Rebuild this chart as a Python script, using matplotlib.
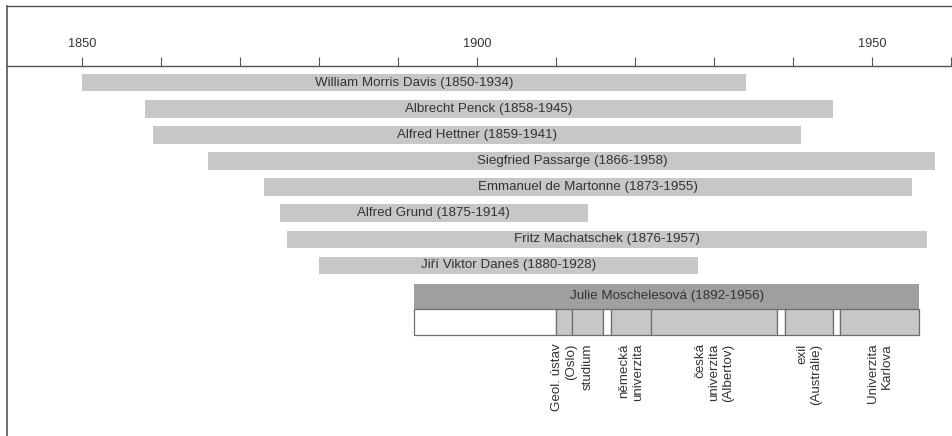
import matplotlib
matplotlib.use("Agg")
import matplotlib.pyplot as plt
from matplotlib.ticker import MultipleLocator

plt.rcParams['font.family'] = ['Liberation Sans', 'DejaVu Sans']

# geographers: name, birth, death
names = ["William Morris Davis", "Albrecht Penck", "Alfred Hettner", "Siegfried Passarge",
         "Emmanuel de Martonne", "Alfred Grund", "Fritz Machatschek", "Jiří Viktor Daneš"]
born = [1850, 1858, 1859, 1866, 1873, 1875, 1876, 1880]
died = [1934, 1945, 1941, 1958, 1955, 1914, 1957, 1928]

main_name = "Julie Moschelesová"
main_born = 1892
main_died = 1956

# career segments of Julie Moschelesová
seg_start = [1892, 1910, 1912, 1916, 1917, 1922, 1938, 1939, 1945, 1946]
seg_end = [1910, 1912, 1916, 1917, 1922, 1938, 1939, 1945, 1946, 1956]
seg_filled = [False, True, True, False, True, True, False, True, False, True]
seg_label = ["", "Geol. ústav\n(Oslo)", "studium", "", "německá\nuniverzita",
             "česká\nuniverzita\n(Albertov)", "", "exil\n(Austrálie)", "", "Univerzita\nKarlova"]

light = "#c6c7c9"
dark = "#9e9fa1"
edge = "#6e6e6e"
txt = "#333333"
fs = 9.6

fig = plt.figure(figsize=(9.53, 4.36), dpi=100)
ax = fig.add_axes([7 / 953, 0, 946 / 953, 430 / 436])
ax.set_xlim(1840.5, 1960.25)
ax.set_ylim(13.54, -2.94)

rows = list(range(len(names)))
ax.barh(rows, [d - b for b, d in zip(born, died)], left=born, height=0.67, color=light)
for r, n, b, d in zip(rows, names, born, died):
    ax.text((b + d) / 2, r, f"{n} ({b}-{d})", ha="center", va="center", fontsize=fs, color=txt)

# main bar
main_row = 8.19
ax.barh(main_row, main_died - main_born, left=main_born, height=0.96, color=dark)
ax.text((main_born + main_died) / 2, main_row, f"{main_name} ({main_born}-{main_died})",
        ha="center", va="center", fontsize=fs, color=txt)

seg_row = 9.17
for s, e, f, lab in zip(seg_start, seg_end, seg_filled, seg_label):
    ax.barh(seg_row, e - s, left=s, height=1.0, color=light if f else "white",
            edgecolor=edge, linewidth=0.9)
    if lab:
        ax.annotate(lab, ((s + e) / 2, seg_row + 0.5), xytext=(0, -6), textcoords="offset points",
                    rotation=90, ha="center", va="top", multialignment="right",
                    fontsize=fs, color=txt, linespacing=1.2)

# timeline axis
ax.spines["bottom"].set_visible(False)
ax.spines["right"].set_visible(False)
ax.spines["top"].set_position(("data", -0.65))
ax.spines["top"].set_color("#555555")
ax.spines["top"].set_linewidth(1.0)
ax.spines["left"].set_color("#555555")
ax.spines["left"].set_linewidth(1.2)
ax.plot([0, 1], [1, 1], transform=ax.transAxes, color="#555555", lw=1.0, clip_on=False)

ax.xaxis.set_ticks_position("top")
ax.xaxis.set_major_locator(MultipleLocator(50))
ax.xaxis.set_minor_locator(MultipleLocator(10))
ax.tick_params(axis="x", which="both", direction="out", length=6.5, width=0.8,
               color="#555555", labelsize=9.2, labelcolor=txt, pad=4.5)
ax.set_yticks([])

fig.savefig("out.png", dpi=100)
